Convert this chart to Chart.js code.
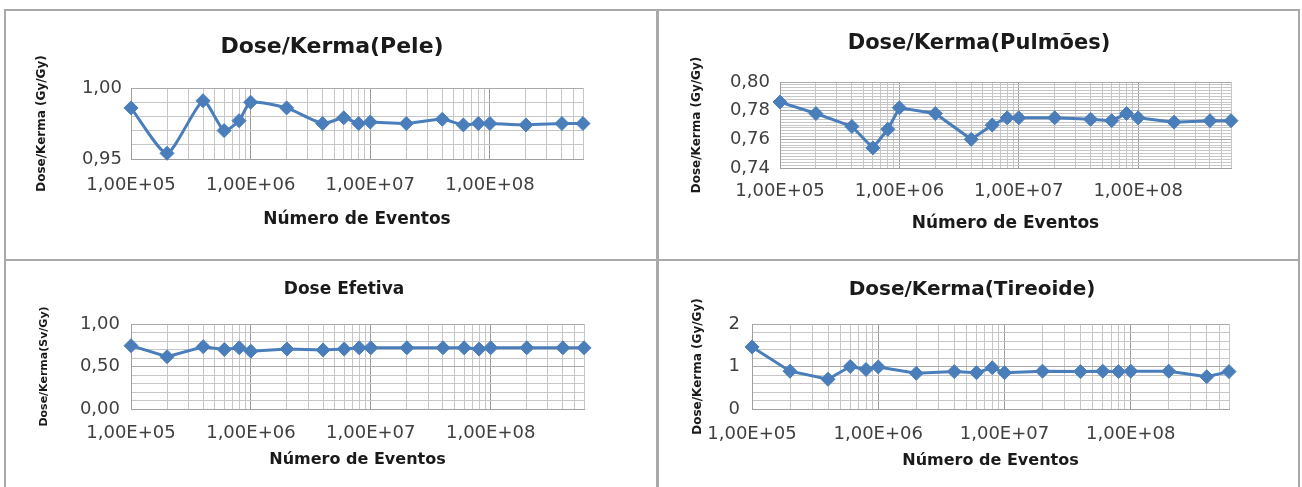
<!DOCTYPE html>
<html>
<head>
<meta charset="utf-8">
<script src="https://cdn.jsdelivr.net/npm/chart.js@4.4.1/dist/chart.umd.min.js"></script>
<style>
	body { margin: 0; background: #fff; }
	#wrap { position: relative; width: 1302px; height: 487px; overflow: hidden; background: #fff; }
	.box { position: absolute; box-sizing: border-box; border: 2px solid #a9a9a9; }
	canvas { position: absolute; }
</style>
</head>
<body>
<div id="wrap">
	<div class="box" style="left:4px;top:9px;width:655px;height:252px"></div>
	<div class="box" style="left:656px;top:9px;width:644px;height:252px"></div>
	<div class="box" style="left:4px;top:259px;width:655px;height:240px"></div>
	<div class="box" style="left:656px;top:259px;width:644px;height:240px"></div>
	<canvas id="pele" width="649" height="247" style="left:6px;top:11px"></canvas>
	<canvas id="pulmoes" width="641" height="247" style="left:658px;top:11px"></canvas>
	<canvas id="efetiva" width="649" height="226" style="left:6px;top:261px"></canvas>
	<canvas id="tireoide" width="641" height="226" style="left:658px;top:261px"></canvas>
</div>
<script>
// numero de eventos (x, log)
var eventos = [1e5, 2e5, 4e5, 6e5, 8e5, 1e6, 2e6, 4e6, 6e6, 8e6, 1e7, 2e7, 4e7, 6e7, 8e7, 1e8, 2e8, 4e8, 6e8];

var pele = [0.986, 0.954, 0.991, 0.970, 0.977, 0.990, 0.986, 0.975, 0.979, 0.975,
            0.976, 0.975, 0.978, 0.974, 0.975, 0.975, 0.974, 0.975, 0.975];
var pulmoes = [0.786, 0.778, 0.769, 0.754, 0.767, 0.782, 0.778, 0.760, 0.770, 0.775,
               0.775, 0.775, 0.774, 0.773, 0.778, 0.775, 0.772, 0.773, 0.773];
var efetiva = [0.745, 0.615, 0.733, 0.700, 0.720, 0.680, 0.705, 0.695, 0.705, 0.720,
               0.720, 0.720, 0.720, 0.720, 0.705, 0.720, 0.720, 0.720, 0.720];
var tireoide = [1.46, 0.89, 0.70, 1.00, 0.93, 0.99, 0.84, 0.88, 0.855, 0.97,
                0.855, 0.89, 0.88, 0.89, 0.88, 0.89, 0.89, 0.76, 0.88];

var xMin = 1e5, xMax = 6e8;
var xTitle = 'Número de Eventos';

var blue = '#4a7ebb';
var fontFam = '"DejaVu Sans", sans-serif';

function isDecade(v) {
	var l = Math.log10(v);
	return Math.abs(l - Math.round(l)) < 1e-9;
}

function isMultiple(v, m) {
	var r = v / m;
	return Math.abs(r - Math.round(r)) < 1e-6;
}

function makeChart(id, title, yTitle, values, o) {
	var canvas = document.getElementById(id);
	var W = canvas.width, H = canvas.height;
	var a = o.area;

	var tLH = o.titleSize * 1.2,
	    tickLH = o.tickSize * 1.2,
	    xtLH = o.xTitleSize * 1.2,
	    ytLH = o.yTitleSize * 1.2;

	var titleTop = o.titleY - tLH / 2;
	var titleBottom = a.top - titleTop - tLH;
	var xScaleH = o.xTitleY + xtLH / 2 - a.bottom;

	// chart title is centred between the layout paddings, so shift them
	var shift = 2 * o.titleX - W;
	var padL = shift > 0 ? shift : 0,
	    padR = shift < 0 ? -shift : 0;

	var points = eventos.map(function(x, i) { return {x: x, y: values[i]}; });

	return new Chart(canvas, {
		type: 'line',
		data: {
			datasets: [{
				data: points,
				borderColor: blue,
				backgroundColor: blue,
				borderWidth: 3,
				pointStyle: 'rectRot',
				pointRadius: 7,
				pointBorderWidth: 1,
				pointBackgroundColor: blue,
				pointBorderColor: blue,
				tension: o.tension || 0,
				clip: false
			}]
		},
		options: {
			responsive: false,
			animation: false,
			devicePixelRatio: 1,
			layout: { padding: { left: padL, top: 0, right: padR, bottom: H - a.bottom - xScaleH } },
			plugins: {
				legend: { display: false },
				tooltip: { enabled: false },
				title: {
					display: true,
					text: title,
					color: '#1a1a1a',
					font: { family: fontFam, size: o.titleSize, weight: 'bold' },
					padding: { top: titleTop, bottom: titleBottom }
				}
			},
			scales: {
				x: {
					type: 'logarithmic',
					min: xMin,
					max: xMax,
					afterBuildTicks: function(scale) {
						// gridlines at 1..9 x 10^n like excel
						var t = [];
						for (var e = 5; e <= 8; e++) {
							for (var s = 1; s <= 9; s++) {
								var v = s * Math.pow(10, e);
								if (v >= xMin && v <= xMax) t.push({value: v, major: s === 1});
							}
						}
						scale.ticks = t;
					},
					afterFit: function(scale) { scale.height = xScaleH; },
					grid: {
						drawTicks: false,
						color: function(c) { return c.tick && isDecade(c.tick.value) ? '#9c9c9c' : '#c6c6c6'; }
					},
					border: { color: '#a0a0a0' },
					ticks: {
						autoSkip: false,
						maxRotation: 0,
						padding: o.tickY - a.bottom - tickLH / 2,
						color: '#404040',
						font: { family: fontFam, size: o.tickSize },
						callback: function(v) {
							if (!isDecade(v)) return '';
							var e = Math.round(Math.log10(v));
							return '1,00E+' + (e < 10 ? '0' + e : e);
						}
					},
					title: {
						display: true,
						text: xTitle,
						color: '#1a1a1a',
						font: { family: fontFam, size: o.xTitleSize, weight: 'bold' },
						padding: 0
					}
				},
				y: {
					min: o.yMin,
					max: o.yMax,
					afterFit: function(scale) { scale.width = a.left - padL; },
					grid: {
						drawTicks: false,
						color: function(c) { return c.tick && isMultiple(c.tick.value, o.yMajor) ? '#aaaaaa' : '#c6c6c6'; }
					},
					border: { color: '#a0a0a0' },
					ticks: {
						stepSize: o.yStep,
						autoSkip: false,
						padding: o.yTickPad,
						color: '#404040',
						font: { family: fontFam, size: o.tickSize },
						callback: function(v) {
							if (!isMultiple(v, o.yMajor)) return '';
							return v.toFixed(o.yDec).replace('.', ',');
						}
					},
					title: {
						display: true,
						text: yTitle,
						color: '#1a1a1a',
						font: { family: fontFam, size: o.yTitleSize, weight: 'bold' },
						padding: { top: o.yTitleX - padL - ytLH / 2, bottom: 0 }
					}
				},
				// empty right axis, only keeps the plot area in place
				pad: {
					position: 'right',
					grid: { display: false },
					border: { display: false },
					ticks: { display: false },
					afterFit: function(scale) { scale.width = W - a.right - padR; }
				}
			}
		}
	});
}

makeChart('pele', 'Dose/Kerma(Pele)', 'Dose/Kerma (Gy/Gy)', pele, {
	area: { left: 125, right: 577, top: 77, bottom: 148 },
	yMin: 0.95, yMax: 1.00, yStep: 0.01, yMajor: 0.05, yDec: 2,
	titleSize: 22, titleY: 36, titleX: 326,
	tickSize: 18, tickY: 174, yTickPad: 9,
	xTitleSize: 17, xTitleY: 209,
	yTitleSize: 12, yTitleX: 36,
	tension: 0.2
});

makeChart('pulmoes', 'Dose/Kerma(Pulmões)', 'Dose/Kerma (Gy/Gy)', pulmoes, {
	area: { left: 122, right: 573, top: 71, bottom: 157 },
	yMin: 0.74, yMax: 0.80, yStep: 0.002, yMajor: 0.02, yDec: 2,
	titleSize: 21, titleY: 33, titleX: 321,
	tickSize: 18, tickY: 180, yTickPad: 10,
	xTitleSize: 17, xTitleY: 213,
	yTitleSize: 12, yTitleX: 39
});

makeChart('efetiva', 'Dose Efetiva', 'Dose/Kerma(Sv/Gy)', efetiva, {
	area: { left: 125, right: 578, top: 63, bottom: 148 },
	yMin: 0, yMax: 1, yStep: 0.1, yMajor: 0.5, yDec: 2,
	titleSize: 17, titleY: 29, titleX: 338,
	tickSize: 18, tickY: 172, yTickPad: 11,
	xTitleSize: 16, xTitleY: 199,
	yTitleSize: 11, yTitleX: 38
});

makeChart('tireoide', 'Dose/Kerma(Tireoide)', 'Dose/Kerma (Gy/Gy)', tireoide, {
	area: { left: 94, right: 571, top: 63, bottom: 148 },
	yMin: 0, yMax: 2, yStep: 0.2, yMajor: 1, yDec: 0,
	titleSize: 20, titleY: 29, titleX: 314,
	tickSize: 18, tickY: 173, yTickPad: 12,
	xTitleSize: 16, xTitleY: 200,
	yTitleSize: 12, yTitleX: 40
});
</script>
</body>
</html>
